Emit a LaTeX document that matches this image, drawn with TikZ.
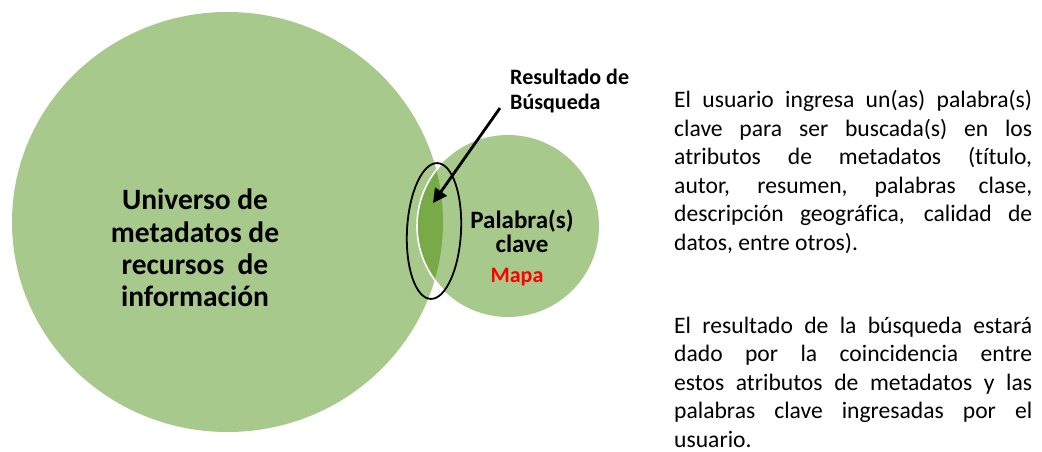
\documentclass[tikz,border=0pt]{standalone}
\usepackage{fontspec}
\setmainfont{Carlito}[Ligatures=NoCommon]
\usetikzlibrary{arrows.meta,shapes.geometric}
\definecolor{leaf}{HTML}{A7C98B}
\definecolor{leafdark}{HTML}{78AA48}
\definecolor{mapred}{HTML}{FF0000}

\tikzset{
  venn/.style={fill=leaf,inner sep=0pt},
  bigtext/.style={font=\fontsize{29.5}{32.3}\selectfont\bfseries,align=center},
  midtext/.style={font=\fontsize{25}{24}\selectfont\bfseries},
  bodytext/.style={font=\fontsize{23.6}{28.6}\selectfont,text width=358pt,align=justify,inner sep=0pt,anchor=base west}
}

\begin{document}
\begin{tikzpicture}[x=1pt,y=-1pt]
\useasboundingbox (0,0) rectangle (1042,452);

% circles
\node[venn,ellipse,minimum width=431pt,minimum height=420pt] (univ) at (227.5,222) {};
\node[venn,circle,minimum size=182pt] (clave) at (508,226) {};

% overlap
\begin{scope}
  \clip (univ.center) ellipse [x radius=215.5, y radius=210];
  \fill[leafdark] (clave.center) circle (91);
\end{scope}
\begin{scope}
  \clip[rotate around={-3:(434,231)}] (434,231) ellipse [x radius=26, y radius=67];
  \draw[white,line width=1.6pt] (clave.center) circle (91);
\end{scope}
\node[ellipse,draw,line width=1.8pt,minimum width=54pt,minimum height=136pt,rotate=-3] (hit) at (434,231) {};

% texts
\node[bigtext] (univtxt) at (195,248) {Universo de\\metadatos de\\recursos~ de\\información};
\node[midtext,align=center] (clavetxt) at (522,231) {Palabra(s)\\clave};
\node[midtext,text=mapred,font=\fontsize{22}{24}\selectfont\bfseries] (mapa) at (517,277) {Mapa};
\node[midtext,font=\fontsize{22}{24.5}\selectfont\bfseries,align=left,anchor=west,inner sep=0pt] (res) at (510,91) {Resultado de\\Búsqueda};

% arrow
\coordinate (from) at (500,108);
\coordinate (tip) at (433,203);
\draw[line width=2.8pt,-{Triangle[length=14pt,width=14pt]}] (from) -- (tip);

% right text
\node[bodytext] (info) at (674,107.5) {El usuario ingresa un(as) palabra(s)\linebreak
clave para ser buscada(s) en los\linebreak
atributos de metadatos (título,\linebreak
autor, resumen, palabras clase,\linebreak
descripción geográfica, calidad de\linebreak
datos, entre otros).};
\node[bodytext] (result) at (674,333) {El resultado de la búsqueda estará\linebreak
dado por la coincidencia entre\linebreak
estos atributos de metadatos y las\linebreak
palabras clave ingresadas por el\linebreak
usuario.};
\end{tikzpicture}
\end{document}
